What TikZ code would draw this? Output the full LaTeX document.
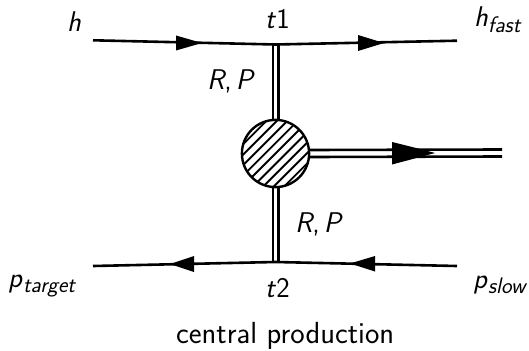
\documentclass[tikz,border=0pt]{standalone}
\usepackage{fontspec}
\usetikzlibrary{calc}
\newcommand{\subsc}[1]{\raisebox{-5.5pt}{\fontsize{22.5}{24}\selectfont\itshape #1}}
\begin{document}
\begin{tikzpicture}[x=1pt,y=-1pt,
  lbl/.style={inner sep=0pt,anchor=base west,font=\fontsize{28.5}{32}\sffamily},
  thin line/.style={line width=2.6pt,black},
  dbl/.style={line width=2.6pt,black},
  tipfill/.style={fill=black,draw=none}]
\useasboundingbox (0,0) rectangle (529,350);
\coordinate (hL) at (93,40.3);
\coordinate (v1) at (275.5,44.5);
\coordinate (hR) at (457,40.7);
\coordinate (pR) at (457,266);
\coordinate (v2) at (275.5,262);
\coordinate (pL) at (93,266);
\coordinate (outEnd) at (502,153);
\node[circle,minimum size=68pt,inner sep=0pt] (blob) at (275.5,153.5) {};
% external lines
\draw[thin line] (hL) -- (v1) -- (hR);
\draw[thin line] (pR) -- (v2) -- (pL);
% double lines
\foreach \d in {-2.7,2.7}{
  \draw[dbl] ([xshift=\d pt]v1) -- ([xshift=\d pt]blob.north);
  \draw[dbl] ([xshift=\d pt]blob.south) -- ([xshift=\d pt]v2);
}
\foreach \d in {-3.5,3.5}{
  \draw[dbl] ([yshift=\d pt]blob.east) -- ([yshift=\d pt]outEnd);
}
% arrowheads
\fill[tipfill] (176,35.5) -- (202,43) -- (176,50.5) -- cycle;
\fill[tipfill] (358,35) -- (384,43) -- (358,51) -- cycle;
\fill[tipfill] (194,256) -- (170,264) -- (194,272) -- cycle;
\fill[tipfill] (375,256) -- (350,263.5) -- (375,271.5) -- cycle;
\fill[tipfill] (392,142) -- (424,150) -- (435,153) -- (424,156) -- (392,164.5) -- cycle;
% blob
\begin{scope}
\clip (275.5,153.5) circle (34pt);
\fill[white] (275.5,153.5) circle (34pt);
\foreach \k in {-7,...,7}{
  \draw[line width=1.9pt] ($(275.5,153.5)+(-40,40)+(\k*5.2,\k*5.2)$) -- ($(275.5,153.5)+(40,-40)+(\k*5.2,\k*5.2)$);
}
\end{scope}
\draw[line width=2.4pt] (275.5,153.5) circle (33.6pt);
% labels
\node[lbl] (lh) at (67,32) {\textit{h}};
\node[lbl] (lt1) at (265,29) {\textit{t}1};
\node[lbl] (lhf) at (474,27) {\textit{h}\subsc{fast}};
\node[lbl] (lrp1) at (207,90) {\textit{R},\hspace{0.14em}\textit{P}};
\node[lbl] (lrp2) at (295,232) {\textit{R},\hspace{0.14em}\textit{P}};
\node[lbl] (lpt) at (8,287) {\textit{p}\subsc{target}};
\node[lbl] (lt2) at (265,297) {\textit{t}2};
\node[lbl] (lps) at (473,288) {\textit{p}\subsc{slow}};
\node[lbl,font=\fontsize{30.5}{34}\sffamily] (cap) at (176,343.5) {central production};
\end{tikzpicture}
\end{document}
